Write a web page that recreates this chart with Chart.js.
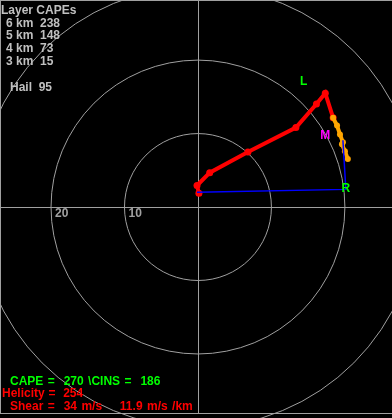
<!DOCTYPE html>
<html>
<head>
<meta charset="utf-8">
<script src="https://cdn.jsdelivr.net/npm/chart.js@4.4.1/dist/chart.umd.min.js"></script>
<style>
  html, body { margin: 0; padding: 0; background: #000; }
  #wrap { position: relative; width: 392px; height: 418px; overflow: hidden; }
  .txt { position: absolute; font: bold 12px "Liberation Sans", Arial, sans-serif; line-height: 12px; white-space: pre; }
</style>
</head>
<body>
<div id="wrap">
  <canvas id="hodo" width="392" height="418"></canvas>
</div>
<script>
// hodograph data (u, v in knots)
const hodoU = [0.13, -0.13, 1.6, 6.8, 13.33, 16.13, 17.33, 18.4];
const hodoV = [1.87, 2.93, 4.67, 7.47, 10.8, 14.0, 15.47, 12.13];

const upperU = [18.4, 18.93, 19.33, 19.73, 19.6, 20.0, 20.4];
const upperV = [12.13, 11.07, 9.87, 8.8, 8.53, 7.6, 6.53];

const shearU = [-0.13, 20.13, 19.73];
const shearV = [2.0, 2.4, 9.07];

// storm motion markers
const motionLabels = ['L', 'M', 'R'];
const motionU = [14.4, 17.33, 20.13];
const motionV = [17.07, 9.73, 2.53];
const motionColors = ['#00ff00', '#ff00ff', '#00ff00'];

// range rings and their labels
const ringValues = [10, 20, 30];
const ringLabels = ['10', '20'];

// text blocks
const capeLayers = ['6 km', '5 km', '4 km', '3 km'];
const capeValues = [238, 148, 73, 15];
const hailValue = 95;
const capeTotal = 270;
const cinsTotal = 186;
const helicity = 254;
const shearMs = 34;
const shearPerKm = 11.9;

const toPts = (us, vs) => us.map((u, i) => ({ x: u, y: vs[i] }));

// background: rings, axes, frame
const backdrop = {
  id: 'backdrop',
  beforeDatasetsDraw(chart) {
    const c = chart.ctx;
    const xs = chart.scales.x, ys = chart.scales.y;
    const cx = xs.getPixelForValue(0), cy = ys.getPixelForValue(0);
    c.save();
    c.strokeStyle = '#a0a0a0';
    c.lineWidth = 1;
    ringValues.forEach(r => {
      const rad = xs.getPixelForValue(r) - cx;
      c.beginPath();
      c.arc(cx, cy, rad, 0, Math.PI * 2);
      c.stroke();
    });
    c.beginPath();
    c.moveTo(0, Math.round(cy) + 0.5); c.lineTo(chart.width, Math.round(cy) + 0.5);
    c.moveTo(Math.round(cx) + 0.5, 0); c.lineTo(Math.round(cx) + 0.5, 413);
    // frame
    c.moveTo(0, 0.5); c.lineTo(chart.width, 0.5);
    c.moveTo(0.5, 0); c.lineTo(0.5, 413);
    c.moveTo(0, 413.5); c.lineTo(chart.width, 413.5);
    c.stroke();
    c.fillStyle = '#a0a0a0';
    c.font = 'bold 12px "Liberation Sans", Arial, sans-serif';
    c.textBaseline = 'alphabetic';
    ringLabels.forEach(t => {
      const x = xs.getPixelForValue(-Number(t)) + 4;
      c.fillText(t, x, cy + 10);
    });
    c.restore();
  },
  afterDatasetsDraw(chart) {
    const c = chart.ctx;
    const xs = chart.scales.x, ys = chart.scales.y;
    c.save();
    c.font = 'bold 12px "Liberation Sans", Arial, sans-serif';
    c.textAlign = 'center';
    c.textBaseline = 'middle';
    motionLabels.forEach((t, i) => {
      c.fillStyle = motionColors[i];
      c.fillText(t, xs.getPixelForValue(motionU[i]), ys.getPixelForValue(motionV[i]));
    });
    c.restore();
  }
};

new Chart(document.getElementById('hodo'), {
  type: 'scatter',
  data: {
    datasets: [
      {
        label: 'shear',
        data: toPts(shearU, shearV),
        showLine: true,
        borderColor: '#0000ff',
        borderWidth: 1.5,
        pointRadius: 0,
        order: 0
      },
      {
        label: 'upper',
        data: toPts(upperU, upperV),
        showLine: true,
        borderColor: '#ffa500',
        backgroundColor: '#ffa500',
        borderWidth: 4,
        pointRadius: 3,
        pointBorderWidth: 0,
        order: 1
      },
      {
        label: 'lower',
        data: toPts(hodoU, hodoV),
        showLine: true,
        borderColor: '#ff0000',
        backgroundColor: '#ff0000',
        borderWidth: 4,
        pointRadius: 3.5,
        pointBorderWidth: 0,
        order: 2
      }
    ]
  },
  options: {
    responsive: false,
    animation: false,
    events: [],
    layout: { padding: 0 },
    plugins: { legend: { display: false }, tooltip: { enabled: false } },
    scales: {
      x: { type: 'linear', min: -198 / 7.5, max: 194 / 7.5, display: false },
      y: { type: 'linear', min: -211 / 7.5, max: 207 / 7.5, display: false }
    }
  },
  plugins: [backdrop]
});

// text overlays
const wrap = document.getElementById('wrap');
function addText(str, x, baseline, color, gap) {
  const d = document.createElement('div');
  d.className = 'txt';
  d.textContent = str;
  d.style.left = x + 'px';
  d.style.top = (baseline - 10) + 'px';
  d.style.color = color;
  if (gap) d.style.wordSpacing = gap + 'px';
  wrap.appendChild(d);
}
addText('Layer CAPEs', 1, 14, '#c0c0c0');
const capeBase = [27, 39, 52, 65];
capeLayers.forEach((l, i) => addText(l + '  ' + capeValues[i], 6, capeBase[i], '#c0c0c0'));
addText('Hail  ' + hailValue, 10, 91, '#c0c0c0');
addText('CAPE =  ' + capeTotal + ' \\CINS =  ' + cinsTotal, 10, 385, '#00ff00', 1.1);
addText('Helicity =  ' + helicity, 2, 397, '#ff0000', 0.5);
addText('Shear =  ' + shearMs + ' m/s    ' + shearPerKm + ' m/s /km', 10, 410, '#ff0000', 1.1);
</script>
</body>
</html>
